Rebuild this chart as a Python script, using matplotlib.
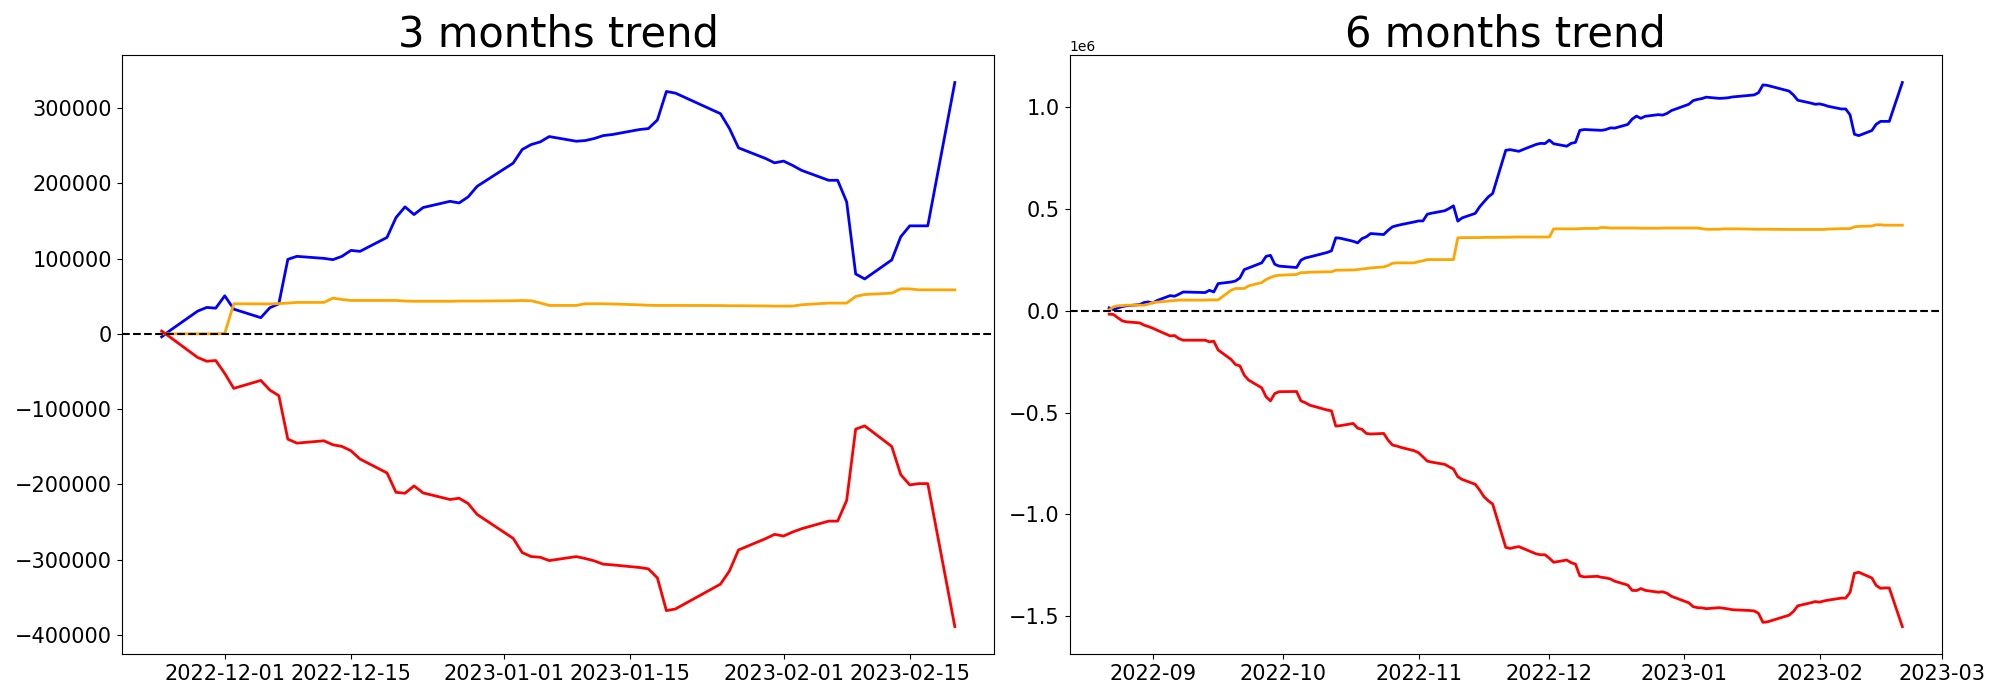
import matplotlib
matplotlib.use('Agg')
import matplotlib.pyplot as plt
import matplotlib.dates as mdates
import numpy as np
import pandas as pd

# 交易日 (KRX 休市日除外)
holidays = ['2022-09-09', '2022-09-12', '2022-10-03', '2022-10-10',
            '2022-12-30', '2023-01-23', '2023-01-24']
dates_6m = pd.bdate_range('2022-08-22', '2023-02-20', freq='C', holidays=holidays)
dates_3m = dates_6m[dates_6m >= '2022-11-24']

# 3 months trend (cumulative, units)
blue_3m = [-4000, 5000, 30200, 35000, 34100, 50500, 32800, 21400, 34600, 39900,
           98900, 102900, 100200, 98500, 102900, 110800, 109500, 128000, 154400, 168600,
           158400, 167700, 176000, 173800, 181800, 195900, 226700, 244800, 251400, 254900,
           262000, 255800, 256700, 259400, 263300, 264700, 271300, 272600, 284000, 321900,
           319700, 292400, 272600, 247000, 232900, 227100, 229400, 223700, 217100, 203900,
           203900, 175200, 79500, 72900, 98100, 128900, 143400, 143400, 143400, 333800]
orange_3m = [0, 0, 0, 0, 0, 500, 39900, 39800, 39600, 40200,
             40800, 41700, 41700, 47400, 45600, 44300, 44300, 44300, 44300, 43500,
             43200, 43200, 43200, 43500, 43500, 43500, 43900, 44200, 43900, 41000,
             37700, 37700, 39900, 39900, 39900, 39600, 38500, 37900, 37700, 37700,
             37700, 37500, 37300, 37300, 37000, 36800, 36800, 36800, 38600, 40800,
             40800, 40800, 49600, 52200, 54000, 59700, 59700, 58400, 58400, 58400]
red_3m = [3700, -5000, -31500, -36400, -35500, -52600, -72500, -61900, -74700, -82200,
          -139900, -145200, -142100, -147400, -149600, -155300, -166300, -184800, -210500, -211800,
          -202000, -211300, -220100, -218400, -225400, -239900, -271700, -290600, -295900, -296800,
          -301200, -295900, -298500, -301600, -306000, -306900, -310400, -312200, -324200, -367700,
          -365500, -332500, -314900, -287100, -272100, -266400, -268600, -263300, -258900, -248800,
          -248800, -221400, -126600, -122300, -149600, -187100, -200700, -199000, -199000, -388900]

# 6 months trend (cumulative, 1e6 units)
blue_6m = [0.015, 0.006, 0.015, 0.021, 0.025, 0.031, 0.041, 0.044, 0.039, 0.051,
           0.075, 0.072, 0.082, 0.093, 0.090, 0.101, 0.093, 0.134, 0.142, 0.147,
           0.162, 0.203, 0.211, 0.236, 0.268, 0.273, 0.229, 0.220, 0.213, 0.249,
           0.260, 0.265, 0.287, 0.295, 0.359, 0.357, 0.342, 0.334, 0.355, 0.364,
           0.380, 0.375, 0.396, 0.413, 0.419, 0.424, 0.437, 0.442, 0.442, 0.475,
           0.480, 0.492, 0.503, 0.516, 0.441, 0.457, 0.479, 0.511, 0.536, 0.560,
           0.577, 0.789, 0.792, 0.788,
           0.784, 0.793, 0.818, 0.823, 0.822, 0.839, 0.821, 0.809, 0.823, 0.828,
           0.887, 0.891, 0.888, 0.887, 0.891, 0.899, 0.898, 0.916, 0.942, 0.957,
           0.946, 0.956, 0.964, 0.962, 0.970, 0.984, 1.015, 1.033, 1.039, 1.043,
           1.050, 1.044, 1.045, 1.047, 1.051, 1.053, 1.059, 1.061, 1.072, 1.110,
           1.108, 1.080, 1.061, 1.035, 1.021, 1.015, 1.017, 1.012, 1.005, 0.992,
           0.992, 0.963, 0.868, 0.861, 0.886, 0.917, 0.931, 0.931, 0.931, 1.122]
orange_6m = [0.005, 0.020, 0.025, 0.026, 0.028, 0.028, 0.028, 0.033, 0.041, 0.043,
             0.049, 0.051, 0.053, 0.053, 0.053, 0.054, 0.054, 0.054, 0.102, 0.110,
             0.110, 0.110, 0.123, 0.139, 0.154, 0.164, 0.172, 0.175, 0.179, 0.188,
             0.188, 0.190, 0.192, 0.192, 0.200, 0.200, 0.201, 0.203, 0.206, 0.208,
             0.211, 0.216, 0.223, 0.234, 0.236, 0.236, 0.236, 0.242, 0.246, 0.252,
             0.252, 0.252, 0.252, 0.252, 0.359, 0.360, 0.360, 0.360, 0.361, 0.361,
             0.361, 0.362, 0.362, 0.363,
             0.363, 0.363, 0.363, 0.363, 0.363, 0.363, 0.403, 0.403, 0.403, 0.403,
             0.404, 0.405, 0.405, 0.410, 0.409, 0.407, 0.407, 0.407, 0.407, 0.407,
             0.406, 0.406, 0.406, 0.407, 0.407, 0.407, 0.407, 0.407, 0.407, 0.404,
             0.401, 0.401, 0.403, 0.403, 0.403, 0.403, 0.402, 0.401, 0.401, 0.401,
             0.401, 0.400, 0.400, 0.400, 0.400, 0.400, 0.400, 0.400, 0.402, 0.404,
             0.404, 0.404, 0.413, 0.415, 0.417, 0.423, 0.423, 0.421, 0.421, 0.421]
red_6m = [-0.016, -0.018, -0.034, -0.049, -0.054, -0.059, -0.070, -0.077, -0.085, -0.095,
          -0.123, -0.121, -0.136, -0.144, -0.144, -0.152, -0.149, -0.192, -0.239, -0.264,
          -0.270, -0.316, -0.340, -0.378, -0.422, -0.442, -0.406, -0.397, -0.396, -0.442,
          -0.451, -0.463, -0.487, -0.491, -0.566, -0.564, -0.553, -0.576, -0.582, -0.602,
          -0.605, -0.602, -0.635, -0.659, -0.664, -0.671, -0.687, -0.697, -0.717, -0.738,
          -0.743, -0.754, -0.766, -0.777, -0.815, -0.828, -0.852, -0.880, -0.913, -0.933,
          -0.949, -1.162, -1.167, -1.162,
          -1.158, -1.167, -1.194, -1.198, -1.198, -1.215, -1.235, -1.224, -1.237, -1.244,
          -1.302, -1.307, -1.304, -1.309, -1.312, -1.317, -1.328, -1.347, -1.373, -1.374,
          -1.364, -1.373, -1.382, -1.380, -1.387, -1.402, -1.434, -1.453, -1.458, -1.459,
          -1.463, -1.458, -1.461, -1.464, -1.468, -1.469, -1.472, -1.474, -1.486, -1.530,
          -1.528, -1.495, -1.477, -1.449, -1.434, -1.428, -1.431, -1.425, -1.421, -1.411,
          -1.411, -1.383, -1.289, -1.284, -1.312, -1.349, -1.363, -1.361, -1.361, -1.551]

fig, (ax1, ax2) = plt.subplots(1, 2, figsize=(20, 7), dpi=100)
plt.subplots_adjust(left=0.061, right=0.971, bottom=0.066, top=0.921, wspace=0.086)

# 3个月
ax1.plot(dates_3m, blue_3m, color='blue', linewidth=2)
ax1.plot(dates_3m, orange_3m, color='orange', linewidth=2)
ax1.plot(dates_3m, red_3m, color='red', linewidth=2)
ax1.axhline(0, color='black', linestyle='--', linewidth=1.5)
ax1.set_title('3 months trend', fontsize=30)
ax1.xaxis.set_major_locator(mdates.DayLocator(bymonthday=[1, 15]))
ax1.xaxis.set_major_formatter(mdates.DateFormatter('%Y-%m-%d'))
ax1.tick_params(labelsize=15)

# 6个月
ax2.plot(dates_6m, np.array(blue_6m) * 1e6, color='blue', linewidth=2)
ax2.plot(dates_6m, np.array(orange_6m) * 1e6, color='orange', linewidth=2)
ax2.plot(dates_6m, np.array(red_6m) * 1e6, color='red', linewidth=2)
ax2.axhline(0, color='black', linestyle='--', linewidth=1.5)
ax2.set_title('6 months trend', fontsize=30)
ax2.xaxis.set_major_locator(mdates.MonthLocator())
ax2.xaxis.set_major_formatter(mdates.DateFormatter('%Y-%m'))
ax2.tick_params(labelsize=15)

plt.savefig('out.png')
